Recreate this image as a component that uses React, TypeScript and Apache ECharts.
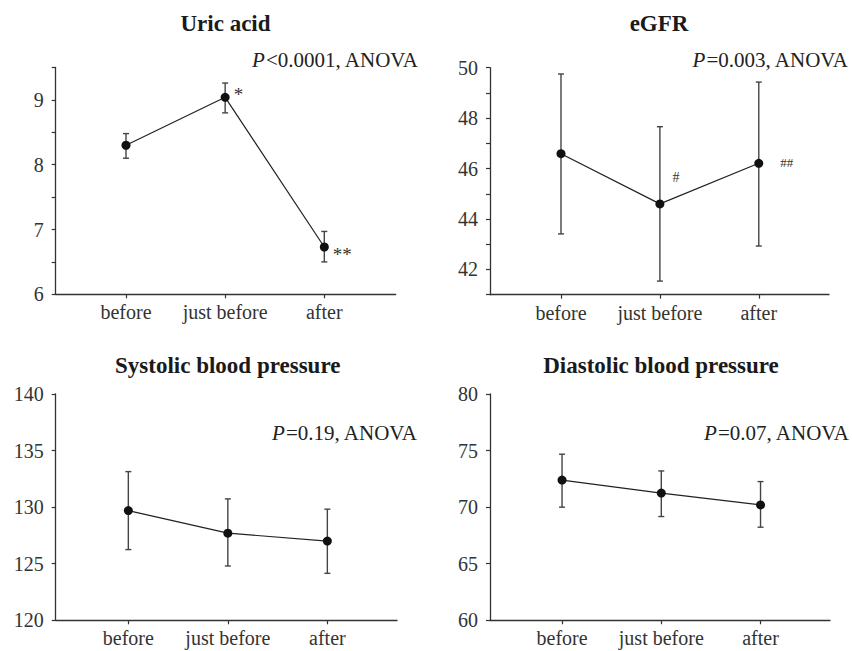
import React, { useEffect, useRef } from "react";
import * as echarts from "echarts";

// ---- data ----
const categories = ["before", "just before", "after"];

const uricMean = [8.3, 9.04, 6.73];
const uricLow = [8.1, 8.8, 6.5];
const uricHigh = [8.48, 9.26, 6.97];
const uricMarks = ["", "*", "**"];

const egfrMean = [46.59, 44.6, 46.21];
const egfrLow = [43.41, 41.54, 42.93];
const egfrHigh = [49.75, 47.66, 49.43];
const egfrMarks = ["", "#", "##"];

const sbpMean = [129.7, 127.7, 127.0];
const sbpLow = [126.25, 124.8, 124.15];
const sbpHigh = [133.14, 130.73, 129.82];
const sbpMarks = ["", "", ""];

const dbpMean = [72.39, 71.24, 70.2];
const dbpLow = [70.0, 69.17, 68.23];
const dbpHigh = [74.68, 73.2, 72.26];
const dbpMarks = ["", "", ""];

const titles = ["Uric acid", "eGFR", "Systolic blood pressure", "Diastolic blood pressure"];
const pTexts = [
  ["<0.0001", ", ANOVA"],
  ["=0.003", ", ANOVA"],
  ["=0.19", ", ANOVA"],
  ["=0.07", ", ANOVA"],
];

const FONT = "Liberation Serif";

// ---- layout ----
const panels = [
  {
    mean: uricMean, low: uricLow, high: uricHigh, marks: uricMarks,
    yMin: 6, yMax: 9.5, interval: 0.5, labelStep: 1,
    grid: { left: 55.7, top: 67.5, width: 340, height: 226.8 },
    xRange: [0.291, 3.72],
    titlePos: [225.5, 23], pPos: [418, 60],
    markStyle: [null, { distance: 4, offset: [0, -3], fontSize: 19 }, { distance: 4, offset: [0, 8], fontSize: 19 }],
  },
  {
    mean: egfrMean, low: egfrLow, high: egfrHigh, marks: egfrMarks,
    yMin: 41, yMax: 50, interval: 1, labelStep: 2,
    grid: { left: 490, top: 67.7, width: 339, height: 227 },
    xRange: [0.282, 3.71],
    titlePos: [659, 23], pPos: [848, 59.5],
    markStyle: [null, { distance: 8, offset: [0, -26], fontSize: 14 }, { distance: 17, offset: [0, -1], fontSize: 13 }],
  },
  {
    mean: sbpMean, low: sbpLow, high: sbpHigh, marks: sbpMarks,
    yMin: 120, yMax: 140, interval: 5, labelStep: 5,
    grid: { left: 55.7, top: 394, width: 341.3, height: 226.3 },
    xRange: [0.27, 3.7],
    titlePos: [227.7, 365], pPos: [417, 432.5],
    markStyle: [null, null, null],
  },
  {
    mean: dbpMean, low: dbpLow, high: dbpHigh, marks: dbpMarks,
    yMin: 60, yMax: 80, interval: 5, labelStep: 5,
    grid: { left: 490, top: 394, width: 340, height: 226.3 },
    xRange: [0.274, 3.7],
    titlePos: [661, 365], pPos: [849, 433],
    markStyle: [null, null, null],
  },
];

const AXIS_COLOR = "#333";

export default function App() {
  const ref = useRef<HTMLDivElement>(null);

  useEffect(() => {
    if (!ref.current) return;
    const chart = echarts.init(ref.current, null, { renderer: "svg" });

    const grid: any[] = [];
    const xAxis: any[] = [];
    const yAxis: any[] = [];
    const series: any[] = [];
    const graphic: any[] = [];

    panels.forEach((p, gi) => {
      grid.push({ ...p.grid, containLabel: false });
      xAxis.push({
        type: "value",
        gridIndex: gi,
        min: p.xRange[0],
        max: p.xRange[1],
        axisLine: { show: true, onZero: false, lineStyle: { color: AXIS_COLOR, width: 1.3 } },
        axisTick: { show: true, customValues: [1, 2, 3], length: 4, lineStyle: { color: AXIS_COLOR, width: 1.2 } },
        axisLabel: {
          show: true,
          customValues: [1, 2, 3],
          formatter: (v: number) => categories[Math.round(v) - 1] ?? "",
          color: "#333",
          fontFamily: FONT,
          fontSize: 20,
          margin: 8,
        },
        splitLine: { show: false },
      });
      yAxis.push({
        type: "value",
        gridIndex: gi,
        min: p.yMin,
        max: p.yMax,
        interval: p.interval,
        axisLine: { show: true, onZero: false, lineStyle: { color: AXIS_COLOR, width: 1.3 } },
        axisTick: { show: true, length: 4, lineStyle: { color: AXIS_COLOR, width: 1.2 } },
        axisLabel: {
          color: "#333",
          fontFamily: FONT,
          fontSize: 20,
          margin: 12,
          formatter: (v: number) => {
            const k = Math.round(v * 1000) / 1000;
            return Math.abs(k / p.labelStep - Math.round(k / p.labelStep)) < 1e-6 ? String(k) : "";
          },
        },
        splitLine: { show: false },
      });

      // error bars
      series.push({
        type: "custom",
        xAxisIndex: gi,
        yAxisIndex: gi,
        z: 2,
        data: p.mean.map((_, i) => [i + 1, p.low[i], p.high[i]]),
        renderItem: (params: any, api: any) => {
          const x = api.value(0);
          const lo = api.coord([x, api.value(1)]);
          const hi = api.coord([x, api.value(2)]);
          const st = { stroke: "#444", lineWidth: 1.4 };
          const cap = 3;
          return {
            type: "group",
            children: [
              { type: "line", shape: { x1: lo[0], y1: lo[1], x2: hi[0], y2: hi[1] }, style: st },
              { type: "line", shape: { x1: hi[0] - cap, y1: hi[1], x2: hi[0] + cap, y2: hi[1] }, style: st },
              { type: "line", shape: { x1: lo[0] - cap, y1: lo[1], x2: lo[0] + cap, y2: lo[1] }, style: st },
            ],
          };
        },
      });

      // means
      series.push({
        type: "line",
        xAxisIndex: gi,
        yAxisIndex: gi,
        z: 3,
        symbol: "circle",
        symbolSize: 9,
        itemStyle: { color: "#111" },
        lineStyle: { color: "#222", width: 1.2 },
        data: p.mean.map((v, i) => {
          const ms = p.markStyle[i];
          const item: any = { value: [i + 1, v] };
          if (p.marks[i] && ms) {
            item.label = {
              show: true,
              position: "right",
              distance: ms.distance,
              offset: ms.offset,
              formatter: p.marks[i],
              color: "#333",
              fontFamily: FONT,
              fontSize: ms.fontSize,
            };
          }
          return item;
        }),
      });

      graphic.push({
        type: "text",
        x: p.titlePos[0],
        y: p.titlePos[1],
        style: {
          text: titles[gi],
          fill: "#1a1a1a",
          fontFamily: FONT,
          fontSize: 23,
          fontWeight: "bold",
          align: "center",
          verticalAlign: "middle",
        },
      });
      graphic.push({
        type: "text",
        x: p.pPos[0],
        y: p.pPos[1],
        style: {
          text: `{i|P}{r|${pTexts[gi][0]}${pTexts[gi][1]}}`,
          align: "right",
          verticalAlign: "middle",
          fontFamily: FONT,
          fontSize: 21,
          rich: {
            i: { fontFamily: FONT, fontSize: 21, fontStyle: "italic", fill: "#222" },
            r: { fontFamily: FONT, fontSize: 21, fill: "#222" },
          },
        },
      });
    });

    chart.setOption({
      animation: false,
      backgroundColor: "#fff",
      textStyle: { fontFamily: FONT },
      grid,
      xAxis,
      yAxis,
      series,
      graphic,
    });

    return () => chart.dispose();
  }, []);

  return (
    <div
      ref={ref}
      style={{ position: "absolute", left: 0, top: 0, width: 852, height: 651, background: "#fff" }}
    />
  );
}
